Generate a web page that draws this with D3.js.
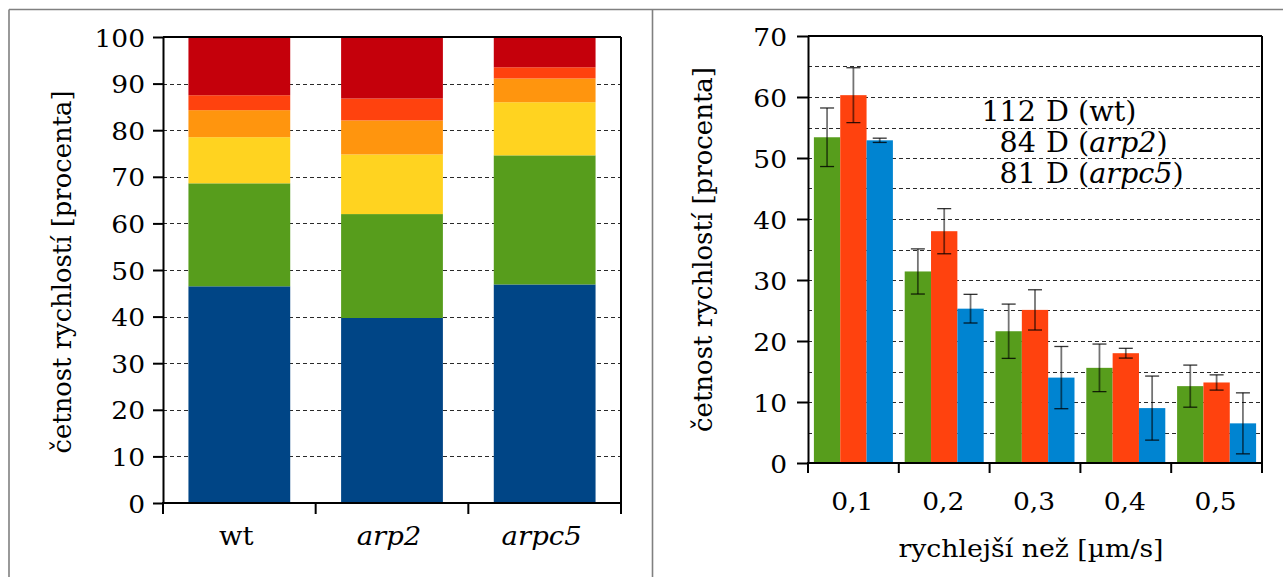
<!DOCTYPE html>
<html>
<head>
<meta charset="utf-8">
<script src="https://cdn.jsdelivr.net/npm/d3@7/dist/d3.min.js"></script>
<style>
  html, body { margin: 0; padding: 0; background: #fff; overflow: hidden; }
  svg { display: block; }
  text { font-family: "DejaVu Serif", "Liberation Serif", serif; fill: #000; }
</style>
</head>
<body>
<svg id="fig" width="1283" height="577"></svg>
<script>
// ---- Stacked distribution of speed classes per strain (percent) ----
const strains = ["wt", "arp2", "arpc5"];
const classSlowest = [46.5, 39.7, 46.9];
const classSecond  = [22.1, 22.3, 27.7];
const classThird   = [9.9, 12.8, 11.4];
const classFourth  = [5.8, 7.3, 5.1];
const classFifth   = [3.2, 4.7, 2.4];
const classFastest = [12.5, 13.2, 6.5];
const classColors = ["#004586", "#579d1c", "#ffd320", "#ff950e", "#ff420e", "#c5000b"];
const stackTicks = [0, 10, 20, 30, 40, 50, 60, 70, 80, 90, 100];

// ---- Share of tracks faster than a threshold (mean ± error, percent) ----
const thresholds = ["0,1", "0,2", "0,3", "0,4", "0,5"];
const wtMean    = [53.4, 31.4, 21.6, 15.6, 12.6];
const wtErr     = [4.8, 3.7, 4.45, 3.9, 3.45];
const arp2Mean  = [60.3, 38.0, 25.1, 18.0, 13.2];
const arp2Err   = [4.5, 3.7, 3.3, 0.8, 1.25];
const arpc5Mean = [52.9, 25.3, 14.0, 9.0, 6.5];
const arpc5Err  = [0.35, 2.35, 5.1, 5.25, 5.0];
const seriesColors = ["#579d1c", "#ff420e", "#0084d1"];
const countLabels = [
  { n: "112", name: "wt", italic: false },
  { n: "84", name: "arp2", italic: true },
  { n: "81", name: "arpc5", italic: true }
];

const svg = d3.select("#fig");
const FONT = '"DejaVu Serif", "Liberation Serif", serif';
const SX = 1.06;          // horizontal stretch of the serif type
const FS = 25;            // tick / label font size

// outer frame
const frame = svg.append("g").attr("stroke", "#808080").attr("stroke-width", 1.6).attr("fill", "none");
frame.append("line").attr("x1", 9).attr("x2", 1283).attr("y1", 9.5).attr("y2", 9.5);
frame.append("line").attr("x1", 9).attr("x2", 9).attr("y1", 9.5).attr("y2", 577);
frame.append("line").attr("x1", 652.5).attr("x2", 652.5).attr("y1", 9.5).attr("y2", 577);

function gridLines(g, y, vals, x0, x1) {
  g.selectAll("line.grid").data(vals).join("line")
    .attr("class", "grid")
    .attr("x1", x0).attr("x2", x1)
    .attr("y1", d => Math.round(y(d)) + 0.5).attr("y2", d => Math.round(y(d)) + 0.5)
    .attr("stroke", "#2a2a2a").attr("stroke-width", 1)
    .attr("stroke-dasharray", "4,3");
}

function styleYAxis(g, offset) {
  g.attr("font-family", FONT);
  g.select(".domain").attr("stroke", "#000").attr("stroke-width", 2);
  g.selectAll(".tick line").attr("stroke", "#000").attr("stroke-width", 2);
  g.selectAll(".tick text")
    .attr("x", null).attr("dy", "0.36em")
    .attr("transform", `translate(${offset},0) scale(${SX},1)`)
    .attr("text-anchor", "end")
    .style("font-size", FS + "px")
    .style("font-family", FONT);
}

function yTitle(g, x, y, len) {
  g.append("text")
    .attr("transform", `translate(${x},${y}) scale(${SX},1) rotate(-90)`)
    .attr("text-anchor", "middle")
    .attr("textLength", len).attr("lengthAdjust", "spacingAndGlyphs")
    .style("font-size", "25px")
    .text("četnost rychlostí [procenta]");
}

// ================= Left: stacked bars =================
{
  const P = { l: 163, r: 621, t: 37, b: 503 };
  const g = svg.append("g");
  const x = d3.scaleBand().domain(strains).range([P.l, P.r]).paddingInner(1 / 3).paddingOuter(1 / 6);
  const y = d3.scaleLinear().domain([0, 100]).range([P.b, P.t]);

  gridLines(g.append("g"), y, stackTicks.filter(v => v > 0 && v < 100), P.l, P.r);

  const classes = [classSlowest, classSecond, classThird, classFourth, classFifth, classFastest];
  const rows = strains.map((s, i) => {
    const r = { strain: s };
    classes.forEach((c, k) => { r["c" + k] = c[i]; });
    return r;
  });
  const keys = classes.map((c, k) => "c" + k);
  const stacked = d3.stack().keys(keys)(rows);

  g.append("g").selectAll("g").data(stacked).join("g")
    .attr("fill", (d, k) => classColors[k])
    .selectAll("rect").data(d => d).join("rect")
    .attr("x", d => x(d.data.strain))
    .attr("width", x.bandwidth())
    .attr("y", d => y(d[1]))
    .attr("height", d => y(d[0]) - y(d[1]));

  // frame: top and right edges
  g.append("line").attr("x1", P.l).attr("x2", P.r).attr("y1", P.t).attr("y2", P.t)
    .attr("stroke", "#000").attr("stroke-width", 2);
  g.append("line").attr("x1", P.r).attr("x2", P.r).attr("y1", P.t).attr("y2", P.b)
    .attr("stroke", "#000").attr("stroke-width", 2);

  const ya = g.append("g").attr("transform", `translate(${P.l},0)`)
    .call(d3.axisLeft(y).tickValues(stackTicks).tickSize(10).tickSizeOuter(0).tickFormat(d3.format("d")));
  styleYAxis(ya, -18);

  // bottom axis: line with ticks at category boundaries
  const bx = g.append("g");
  bx.append("line").attr("x1", P.l - 1).attr("x2", P.r + 1).attr("y1", P.b).attr("y2", P.b)
    .attr("stroke", "#000").attr("stroke-width", 2);
  const bounds = d3.range(strains.length + 1).map(i => P.l + i * x.step());
  bx.selectAll("line.bt").data(bounds).join("line").attr("class", "bt")
    .attr("x1", d => d).attr("x2", d => d).attr("y1", P.b).attr("y2", P.b + 11)
    .attr("stroke", "#000").attr("stroke-width", 2);
  bx.selectAll("text").data(strains).join("text")
    .attr("transform", d => `translate(${x(d) + x.bandwidth() / 2 - 3},545) scale(${SX},1)`)
    .attr("text-anchor", "middle")
    .style("font-size", "26px")
    .style("font-style", d => d === "wt" ? "normal" : "italic")
    .text(d => d);

  yTitle(g, 71, (P.t + P.b) / 2 + 2, 363);
}

// ================= Right: grouped bars with error bars =================
{
  const P = { l: 808, r: 1262, t: 36, b: 463 };
  const g = svg.append("g");
  const x0 = d3.scaleBand().domain(thresholds).range([P.l, P.r]).paddingInner(0.13).paddingOuter(0.065);
  const seriesNames = ["wt", "arp2", "arpc5"];
  const x1 = d3.scaleBand().domain(seriesNames).range([0, x0.bandwidth()]);
  const y = d3.scaleLinear().domain([0, 70]).range([P.b, P.t]);

  gridLines(g.append("g"), y, d3.range(5, 70, 5), P.l, P.r);

  const means = [wtMean, arp2Mean, arpc5Mean];
  const errs = [wtErr, arp2Err, arpc5Err];
  const pts = [];
  thresholds.forEach((t, i) => seriesNames.forEach((s, k) => {
    pts.push({ t, s, k, v: means[k][i], e: errs[k][i] });
  }));

  g.append("g").selectAll("rect").data(pts).join("rect")
    .attr("x", d => x0(d.t) + x1(d.s))
    .attr("width", x1.bandwidth())
    .attr("y", d => y(d.v))
    .attr("height", d => y(0) - y(d.v))
    .attr("fill", d => seriesColors[d.k]);

  const eb = g.append("g").selectAll("g").data(pts).join("g")
    .attr("transform", d => `translate(${x0(d.t) + x1(d.s) + x1.bandwidth() / 2},0)`);
  eb.append("line")
    .attr("y1", d => y(d.v + d.e)).attr("y2", d => y(d.v - d.e))
    .attr("stroke", "#000").attr("stroke-opacity", 0.55).attr("stroke-width", 1.8);
  eb.selectAll("line.cap").data(d => [d.v + d.e, d.v - d.e]).join("line").attr("class", "cap")
    .attr("x1", -7).attr("x2", 7)
    .attr("y1", v => y(v)).attr("y2", v => y(v))
    .attr("stroke", "#000").attr("stroke-opacity", 0.8).attr("stroke-width", 1.3);

  g.append("line").attr("x1", P.l).attr("x2", P.r).attr("y1", P.t).attr("y2", P.t)
    .attr("stroke", "#000").attr("stroke-width", 2);
  g.append("line").attr("x1", P.r).attr("x2", P.r).attr("y1", P.t).attr("y2", P.b)
    .attr("stroke", "#000").attr("stroke-width", 2);

  const ya = g.append("g").attr("transform", `translate(${P.l},0)`)
    .call(d3.axisLeft(y).tickValues(d3.range(0, 71, 10)).tickSize(11).tickSizeOuter(0).tickFormat(d3.format("d")));
  styleYAxis(ya, -21);

  const bx = g.append("g");
  bx.append("line").attr("x1", P.l - 1).attr("x2", P.r + 1).attr("y1", P.b).attr("y2", P.b)
    .attr("stroke", "#000").attr("stroke-width", 2);
  const bounds = d3.range(thresholds.length + 1).map(i => P.l + i * x0.step());
  bx.selectAll("line.bt").data(bounds).join("line").attr("class", "bt")
    .attr("x1", d => d).attr("x2", d => d).attr("y1", P.b).attr("y2", P.b + 10)
    .attr("stroke", "#000").attr("stroke-width", 2);
  bx.selectAll("text").data(thresholds).join("text")
    .attr("transform", d => `translate(${x0(d) + x0.bandwidth() / 2 - 1},510) scale(${SX},1)`)
    .attr("text-anchor", "middle")
    .style("font-size", FS + "px")
    .text(d => d);

  g.append("text")
    .attr("transform", `translate(${(P.l + P.r) / 2 - 4},557) scale(${SX},1)`)
    .attr("text-anchor", "middle")
    .attr("textLength", 250).attr("lengthAdjust", "spacingAndGlyphs")
    .style("font-size", "24px")
    .text("rychlejší než [µm/s]");

  yTitle(g, 712, (P.t + P.b) / 2, 365);

  // track counts per strain
  const ann = g.append("g");
  countLabels.forEach((c, i) => {
    const by = 121 + i * 31;
    ann.append("text")
      .attr("transform", `translate(1036,${by}) scale(${SX},1)`)
      .attr("text-anchor", "end")
      .style("font-size", "27px")
      .text(c.n);
    const t = ann.append("text")
      .attr("transform", `translate(1046,${by}) scale(${SX},1)`)
      .style("font-size", "27px");
    t.append("tspan").text("D (");
    t.append("tspan").style("font-style", c.italic ? "italic" : "normal").text(c.name);
    t.append("tspan").text(")");
  });
}
</script>
</body>
</html>
